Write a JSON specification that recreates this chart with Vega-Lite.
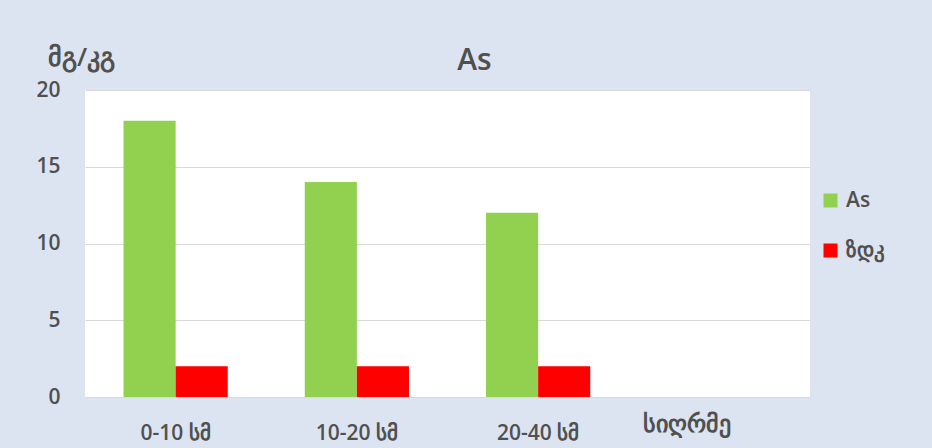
{
  "$schema": "https://vega.github.io/schema/vega-lite/v6.json",
  "width": 725,
  "height": 307,
  "autosize": {"type": "none"},
  "padding": {"left": 85, "top": 90, "right": 122, "bottom": 51},
  "background": "#dce4f1",
  "title": {
    "text": "As",
    "fontSize": 30,
    "fontWeight": 600,
    "color": "#505050",
    "anchor": "middle",
    "frame": "group",
    "dx": 27,
    "offset": -32
  },
  "data": {
    "values": [
      {"depth": "0-10 სმ", "series": "As", "value": 18},
      {"depth": "0-10 სმ", "series": "ზდკ", "value": 2},
      {"depth": "10-20 სმ", "series": "As", "value": 14},
      {"depth": "10-20 სმ", "series": "ზდკ", "value": 2},
      {"depth": "20-40 სმ", "series": "As", "value": 12},
      {"depth": "20-40 სმ", "series": "ზდკ", "value": 2}
    ]
  },
  "mark": {"type": "bar"},
  "encoding": {
    "x": {
      "field": "depth",
      "type": "nominal",
      "sort": null,
      "scale": {
        "domain": ["0-10 სმ", "10-20 სმ", "20-40 სმ", " "],
        "paddingInner": 0.425,
        "paddingOuter": 0.2125
      },
      "axis": {
        "title": "სიღრმე",
        "titleX": 601,
        "titleY": 27,
        "titleAlign": "center",
        "titleBaseline": "middle",
        "titleFontSize": 24,
        "titleFontWeight": 600,
        "titleColor": "#505050",
        "labelFontSize": 21,
        "labelFontWeight": 600,
        "labelColor": "#505050",
        "labelAngle": 0,
        "labelPadding": 25,
        "ticks": false,
        "domain": false,
        "grid": false
      }
    },
    "xOffset": {"field": "series", "type": "nominal", "sort": ["As", "ზდკ"]},
    "y": {
      "field": "value",
      "type": "quantitative",
      "scale": {"domain": [0, 20]},
      "axis": {
        "title": "მგ/კგ",
        "titleAngle": 0,
        "titleX": -4,
        "titleY": -33,
        "titleAlign": "center",
        "titleBaseline": "middle",
        "titleFontSize": 26,
        "titleFontWeight": 600,
        "titleColor": "#505050",
        "values": [0, 5, 10, 15, 20],
        "labelFontSize": 21,
        "labelFontWeight": 600,
        "labelColor": "#505050",
        "labelPadding": 25,
        "ticks": false,
        "domain": false,
        "gridColor": "#d9d9d9"
      }
    },
    "color": {
      "field": "series",
      "type": "nominal",
      "scale": {"domain": ["As", "ზდკ"], "range": ["#92d050", "#ff0000"]},
      "legend": {
        "orient": "none",
        "legendX": 735,
        "legendY": 100,
        "title": null,
        "symbolType": "square",
        "symbolSize": 196,
        "symbolStrokeWidth": 0,
        "labelFontSize": 21,
        "labelFontWeight": 600,
        "labelColor": "#505050",
        "labelOffset": 5,
        "rowPadding": 28
      }
    }
  },
  "config": {
    "font": "Open Sans",
    "view": {"fill": "white", "stroke": null}
  }
}
